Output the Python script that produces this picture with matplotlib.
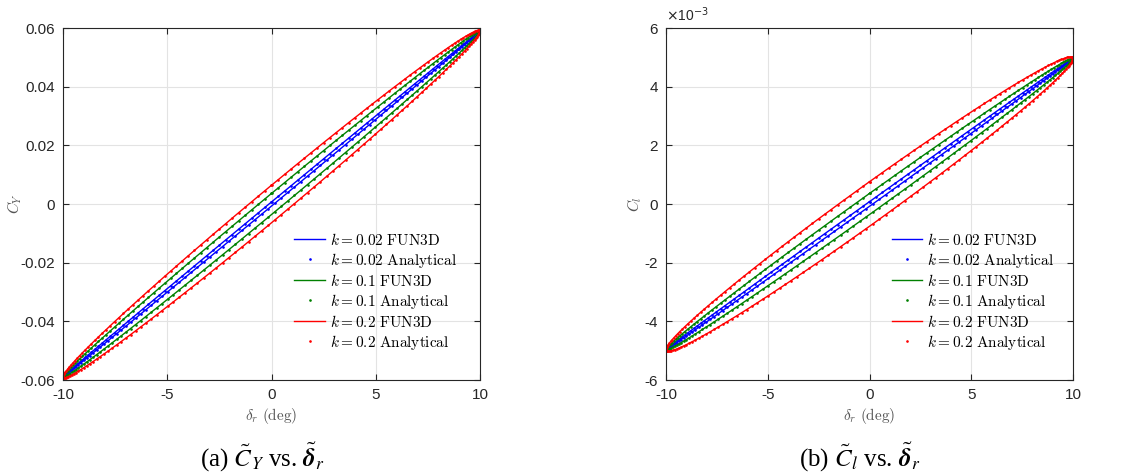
import matplotlib
matplotlib.use("Agg")
import matplotlib.pyplot as plt
import numpy as np
from matplotlib.ticker import FuncFormatter

plt.rcParams['mathtext.fontset'] = 'cm'
plt.rcParams['axes.unicode_minus'] = False

# datos
delta_amp = 10.0                      # amplitud de deflexion (deg)
k_values = [0.02, 0.1, 0.2]
colors = ['#0000ff', '#008000', '#ff0000']
cy_amp = [0.0589, 0.0589, 0.0589]     # C_Y en delta = +10
cy_width = [0.0007, 0.0036, 0.0064]   # C_Y en delta = 0 (rama superior)
cl_amp = [0.00496, 0.00496, 0.00496]
cl_width = [0.00008, 0.00036, 0.00076]
xticks = [-10, -5, 0, 5, 10]
cy_ticks = [-0.06, -0.04, -0.02, 0, 0.02, 0.04, 0.06]
cl_ticks = [-6e-3, -4e-3, -2e-3, 0, 2e-3, 4e-3, 6e-3]

gray = '#262626'
fig = plt.figure(figsize=(11.33, 4.72), dpi=100)
ax1 = fig.add_axes([63/1133, 92/472, 417/1133, 352/472])
ax2 = fig.add_axes([666/1133, 92/472, 407/1133, 352/472])

def lazo(ax, amps, widths):
    t = np.linspace(0, 2*np.pi, 400)
    ta = np.linspace(0, 2*np.pi, 200)
    for k, a, w, c in zip(k_values, amps, widths, colors):
        ax.plot(delta_amp*np.sin(t), a*np.sin(t) + w*np.cos(t), '-', color=c, lw=1.0,
                label=r'$k = %g\ \mathrm{FUN3D}$' % k)
        ax.plot(delta_amp*np.sin(ta), a*np.sin(ta) + w*np.cos(ta), '.', color=c, ms=1.8,
                label=r'$k = %g\ \mathrm{Analytical}$' % k)

lazo(ax1, cy_amp, cy_width)
lazo(ax2, cl_amp, cl_width)

for ax, yt, ylab, lx in [(ax1, cy_ticks, r'$C_Y$', -0.115), (ax2, cl_ticks, r'$C_l$', -0.076)]:
    ax.set_xlim(-10, 10)
    ax.set_ylim(yt[0], yt[-1])
    ax.set_xticks(xticks)
    ax.set_yticks(yt)
    ax.grid(True, color='#e3e3e3', lw=0.8)
    ax.set_axisbelow(True)
    ax.tick_params(direction='in', top=True, right=True, length=4, width=0.8,
                   colors=gray, labelsize=11, pad=6)
    for s in ax.spines.values():
        s.set_color(gray)
        s.set_linewidth(0.8)
    ax.set_xlabel(r'$\delta_r\ \mathrm{(deg)}$', fontsize=11, color='#555555', labelpad=3)
    ax.set_ylabel(ylab, fontsize=11, color='#555555', va='center')
    ax.yaxis.set_label_coords(lx, 0.5)
    ax.legend(loc='lower left', bbox_to_anchor=(0.555, 0.08), frameon=False,
              fontsize=11, handlelength=2.0, handletextpad=0.3, labelspacing=0.2,
              borderpad=0, borderaxespad=0, markerscale=1.0)

ax1.yaxis.set_major_formatter(FuncFormatter(lambda v, p: '%g' % round(v, 4)))
ax2.yaxis.set_major_formatter(FuncFormatter(lambda v, p: '%g' % round(v*1e3, 3)))
for ax in (ax1, ax2):
    for lab in ax.get_xticklabels() + ax.get_yticklabels():
        lab.set_fontfamily('Liberation Sans')
ax2.text(0.0, 1.012, r'$\times$10$^{-3}$', transform=ax2.transAxes, fontsize=10,
         color=gray, family='Liberation Sans', math_fontfamily='dejavusans', va='bottom')

fig.text(262/1133, 1 - 457/472, r'(a) $\tilde{C}_Y$ vs. $\tilde{\boldsymbol{\delta}}_r$', ha='center',
         va='center', fontsize=18, family='Liberation Serif', math_fontfamily='stix')
fig.text(860/1133, 1 - 457/472, r'(b) $\tilde{C}_l$ vs. $\tilde{\boldsymbol{\delta}}_r$', ha='center',
         va='center', fontsize=18, family='Liberation Serif', math_fontfamily='stix')

fig.savefig('out.png', dpi=100)
